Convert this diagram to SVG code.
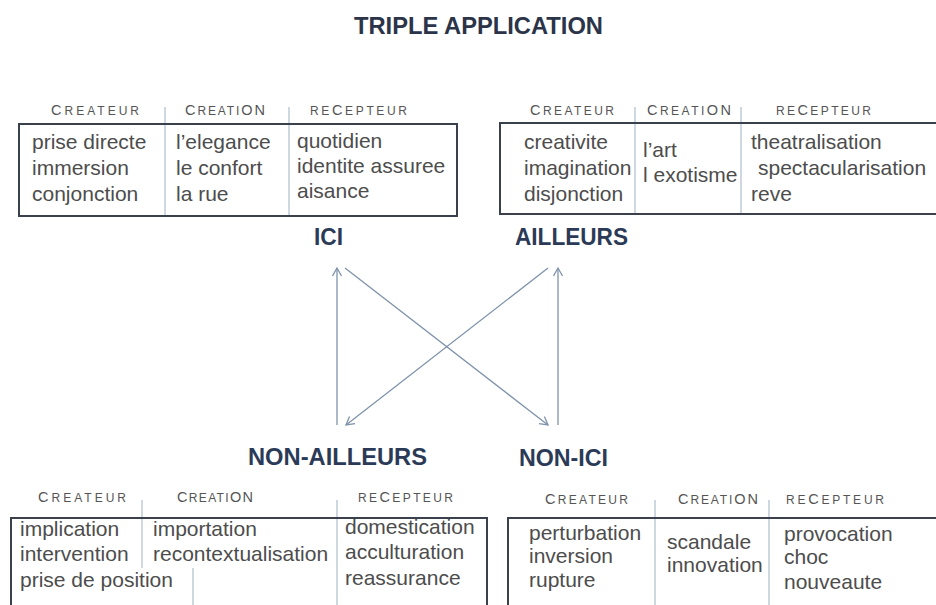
<svg xmlns="http://www.w3.org/2000/svg" width="936" height="605" viewBox="0 0 936 605">
<defs>
<style>
.box{fill:none;stroke:#3a414d;stroke-width:2}
.div{stroke:#9fb0c2;stroke-width:1;fill:none}
.hd{font-family:"Liberation Sans",Arial,sans-serif;font-size:12px;fill:#555555}
.b{font-size:14.5px}
.tx{font-family:"Liberation Sans",Arial,sans-serif;font-size:21px;fill:#4d4d4d}
.lbl{font-family:"Liberation Sans",Arial,sans-serif;font-weight:bold;font-size:23.5px;fill:#2b3b57}
.ttl{font-family:"Liberation Sans",Arial,sans-serif;font-weight:bold;font-size:24px;fill:#2b3448}
.cn{stroke:#7f93aa;stroke-width:1.3;fill:none}
</style>
<marker id="ah" markerUnits="userSpaceOnUse" markerWidth="12" markerHeight="12" refX="9" refY="5" orient="auto">
<path d="M1,0.5 L9,5 L1,9.5" fill="none" stroke="#7f93aa" stroke-width="1.3"/>
</marker>
</defs>
<rect width="936" height="605" fill="#ffffff"/>

<g id="title">
<text class="ttl" x="354" y="34" textLength="249" lengthAdjust="spacingAndGlyphs">TRIPLE APPLICATION</text>
</g>

<g id="ici-table">
<line class="div" x1="165" y1="107" x2="165" y2="215"/>
<line class="div" x1="289" y1="107" x2="289" y2="215"/>
<rect class="box" x="19" y="124" width="438" height="92"/>
<text class="hd" x="51" y="115" textLength="88" lengthAdjust="spacing"><tspan class="b">C</tspan>REATEUR</text>
<text class="hd" x="185" y="115" textLength="80" lengthAdjust="spacing"><tspan class="b">C</tspan>REATI<tspan class="b">ON</tspan></text>
<text class="hd" x="310" y="115" textLength="97" lengthAdjust="spacing">RE<tspan class="b">C</tspan>EPTEUR</text>
<text class="tx" x="32" y="149">prise directe</text>
<text class="tx" x="32" y="175">immersion</text>
<text class="tx" x="32" y="201">conjonction</text>
<text class="tx" x="176" y="149">l’elegance</text>
<text class="tx" x="176" y="175">le confort</text>
<text class="tx" x="176" y="201">la rue</text>
<text class="tx" x="297" y="148">quotidien</text>
<text class="tx" x="297" y="173">identite assuree</text>
<text class="tx" x="297" y="198">aisance</text>
</g>

<g id="ailleurs-table">
<line class="div" x1="635" y1="107" x2="635" y2="213"/>
<line class="div" x1="741" y1="107" x2="741" y2="213"/>
<rect class="box" x="500" y="123" width="450" height="91"/>
<text class="hd" x="530" y="115" textLength="84" lengthAdjust="spacing"><tspan class="b">C</tspan>REATEUR</text>
<text class="hd" x="647" y="115" textLength="84" lengthAdjust="spacing"><tspan class="b">C</tspan>REATI<tspan class="b">ON</tspan></text>
<text class="hd" x="776" y="115" textLength="95" lengthAdjust="spacing">RE<tspan class="b">C</tspan>EPTEUR</text>
<text class="tx" x="524" y="149">creativite</text>
<text class="tx" x="524" y="175">imagination</text>
<text class="tx" x="524" y="201">disjonction</text>
<text class="tx" x="643" y="157">l’art</text>
<text class="tx" x="643" y="182">l exotisme</text>
<text class="tx" x="751" y="149">theatralisation</text>
<text class="tx" x="758" y="175">spectacularisation</text>
<text class="tx" x="751" y="201">reve</text>
</g>

<g id="ici"><text class="lbl" x="314" y="245" textLength="29" lengthAdjust="spacingAndGlyphs">ICI</text></g>
<g id="ailleurs"><text class="lbl" x="515" y="245" textLength="113" lengthAdjust="spacingAndGlyphs">AILLEURS</text></g>
<g id="non-ailleurs"><text class="lbl" x="248" y="465" textLength="179" lengthAdjust="spacingAndGlyphs">NON-AILLEURS</text></g>
<g id="non-ici"><text class="lbl" x="519" y="466" textLength="89" lengthAdjust="spacingAndGlyphs">NON-ICI</text></g>

<g id="connectors">
<line class="cn" x1="337" y1="425" x2="337" y2="268" marker-end="url(#ah)"/>
<line class="cn" x1="345" y1="268" x2="548" y2="425" marker-end="url(#ah)"/>
<line class="cn" x1="548" y1="268" x2="346" y2="425" marker-end="url(#ah)"/>
<line class="cn" x1="558" y1="425" x2="558" y2="268" marker-end="url(#ah)"/>
</g>

<g id="non-ailleurs-table">
<line class="div" x1="142" y1="500" x2="142" y2="568"/>
<line class="div" x1="193" y1="568" x2="193" y2="605"/>
<line class="div" x1="337" y1="500" x2="337" y2="605"/>
<rect class="box" x="11" y="518" width="476" height="110"/>
<text class="hd" x="38" y="502" textLength="88" lengthAdjust="spacing"><tspan class="b">C</tspan>REATEUR</text>
<text class="hd" x="177" y="502" textLength="76" lengthAdjust="spacing"><tspan class="b">C</tspan>REATI<tspan class="b">ON</tspan></text>
<text class="hd" x="358" y="502" textLength="95" lengthAdjust="spacing">RE<tspan class="b">C</tspan>EPTEUR</text>
<text class="tx" x="20" y="536">implication</text>
<text class="tx" x="20" y="561">intervention</text>
<text class="tx" x="20" y="587">prise de position</text>
<text class="tx" x="153" y="536">importation</text>
<text class="tx" x="153" y="561">recontextualisation</text>
<text class="tx" x="345" y="534">domestication</text>
<text class="tx" x="345" y="559">acculturation</text>
<text class="tx" x="345" y="585">reassurance</text>
</g>

<g id="non-ici-table">
<line class="div" x1="655" y1="500" x2="655" y2="605"/>
<line class="div" x1="769" y1="500" x2="769" y2="605"/>
<rect class="box" x="508" y="518" width="440" height="110"/>
<text class="hd" x="545" y="504" textLength="83" lengthAdjust="spacing"><tspan class="b">C</tspan>REATEUR</text>
<text class="hd" x="678" y="504" textLength="80" lengthAdjust="spacing"><tspan class="b">C</tspan>REATI<tspan class="b">ON</tspan></text>
<text class="hd" x="786" y="504" textLength="98" lengthAdjust="spacing">RE<tspan class="b">C</tspan>EPTEUR</text>
<text class="tx" x="529" y="540">perturbation</text>
<text class="tx" x="529" y="563">inversion</text>
<text class="tx" x="529" y="587">rupture</text>
<text class="tx" x="667" y="549">scandale</text>
<text class="tx" x="667" y="572">innovation</text>
<text class="tx" x="784" y="541">provocation</text>
<text class="tx" x="784" y="564">choc</text>
<text class="tx" x="784" y="589">nouveaute</text>
</g>
</svg>
